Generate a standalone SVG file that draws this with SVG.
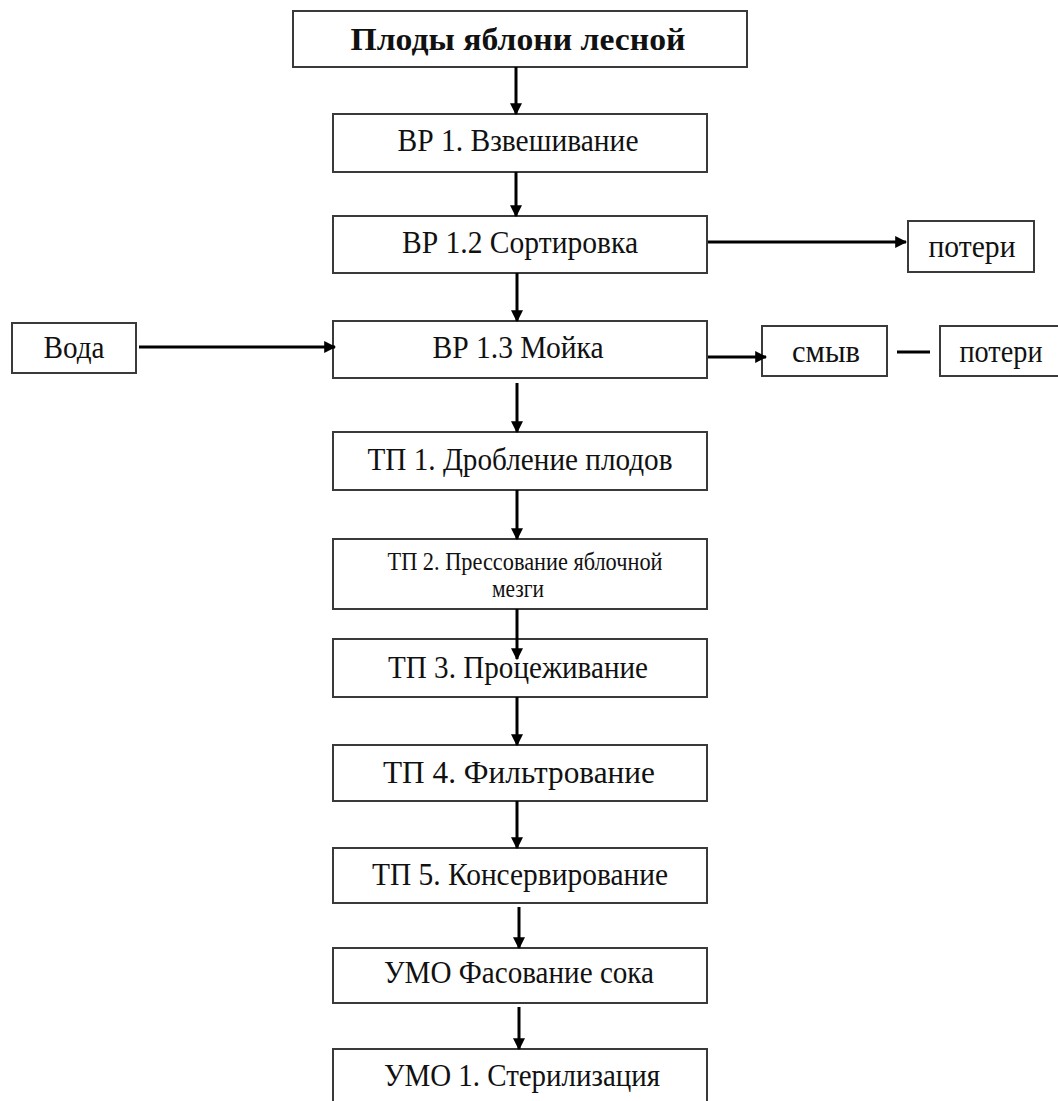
<svg xmlns="http://www.w3.org/2000/svg" width="1058" height="1101" viewBox="0 0 1058 1101">
  <defs>
    <style>
      .box { fill: #ffffff; stroke: #3a3a3a; stroke-width: 2; }
      .lbl { font-family: "Liberation Serif", "Times New Roman", serif; font-size: 32px; fill: #111111; text-anchor: middle; }
      .title { font-weight: bold; font-size: 31px; }
      .small { font-size: 25px; }
      .flow { stroke: #000000; stroke-width: 3; fill: none; }
    </style>
    <marker id="arrow" viewBox="0 0 10 10" refX="9" refY="5" markerWidth="4" markerHeight="4" orient="auto" markerUnits="strokeWidth">
      <path d="M0,0 L10,5 L0,10 Z" fill="#000000"/>
    </marker>
  </defs>

  <rect width="1058" height="1101" fill="#ffffff"/>

  <!-- process steps -->
  <g id="node-source">
    <rect class="box" x="293" y="11" width="454" height="56"/>
    <text class="lbl title" x="518" y="50" textLength="335" lengthAdjust="spacingAndGlyphs">Плоды яблони лесной</text>
  </g>
  <g id="node-vr1">
    <rect class="box" x="333" y="114" width="374" height="58"/>
    <text class="lbl" x="518" y="151" textLength="241" lengthAdjust="spacingAndGlyphs">ВР 1. Взвешивание</text>
  </g>
  <g id="node-vr12">
    <rect class="box" x="333" y="216" width="374" height="57"/>
    <text class="lbl" x="520" y="253" textLength="236" lengthAdjust="spacingAndGlyphs">ВР 1.2 Сортировка</text>
  </g>
  <g id="node-loss1">
    <rect class="box" x="908" y="221" width="126" height="51"/>
    <text class="lbl" x="972" y="257" textLength="87" lengthAdjust="spacingAndGlyphs">потери</text>
  </g>
  <g id="node-water">
    <rect class="box" x="12" y="323" width="124" height="50"/>
    <text class="lbl" x="74" y="358" textLength="61" lengthAdjust="spacingAndGlyphs">Вода</text>
  </g>
  <g id="node-vr13">
    <rect class="box" x="333" y="321" width="374" height="57"/>
    <text class="lbl" x="518" y="358" textLength="171" lengthAdjust="spacingAndGlyphs">ВР 1.3 Мойка</text>
  </g>
  <g id="node-wash">
    <rect class="box" x="762" y="326" width="125" height="50"/>
    <text class="lbl" x="826" y="362" textLength="68" lengthAdjust="spacingAndGlyphs">смыв</text>
  </g>
  <g id="node-loss2">
    <rect class="box" x="940" y="326" width="126" height="50"/>
    <text class="lbl" x="1001" y="362" textLength="83" lengthAdjust="spacingAndGlyphs">потери</text>
  </g>
  <g id="node-tp1">
    <rect class="box" x="333" y="432" width="374" height="58"/>
    <text class="lbl" x="520" y="470" textLength="305" lengthAdjust="spacingAndGlyphs">ТП 1. Дробление плодов</text>
  </g>
  <g id="node-tp2">
    <rect class="box" x="333" y="539" width="374" height="70"/>
    <text class="lbl small" x="525" y="570" textLength="275" lengthAdjust="spacingAndGlyphs">ТП 2. Прессование яблочной</text>
    <text class="lbl small" x="518" y="597" textLength="52" lengthAdjust="spacingAndGlyphs">мезги</text>
  </g>
  <g id="node-tp3">
    <rect class="box" x="333" y="639" width="374" height="58"/>
    <text class="lbl" x="518" y="678" textLength="260" lengthAdjust="spacingAndGlyphs">ТП 3. Процеживание</text>
  </g>
  <g id="node-tp4">
    <rect class="box" x="333" y="745" width="374" height="56"/>
    <text class="lbl" x="519" y="783" textLength="272" lengthAdjust="spacingAndGlyphs">ТП 4. Фильтрование</text>
  </g>
  <g id="node-tp5">
    <rect class="box" x="333" y="848" width="374" height="55"/>
    <text class="lbl" x="520" y="885" textLength="296" lengthAdjust="spacingAndGlyphs">ТП 5. Консервирование</text>
  </g>
  <g id="node-umo">
    <rect class="box" x="333" y="948" width="374" height="55"/>
    <text class="lbl" x="519" y="983" textLength="270" lengthAdjust="spacingAndGlyphs">УМО Фасование сока</text>
  </g>
  <g id="node-umo1">
    <rect class="box" x="333" y="1049" width="374" height="60"/>
    <text class="lbl" x="522" y="1086" textLength="276" lengthAdjust="spacingAndGlyphs">УМО 1. Стерилизация</text>
  </g>

  <!-- connectors (drawn last so heads that overlap a box stay visible) -->
  <g id="connectors">
    <line class="flow" x1="516" y1="67" x2="516" y2="114" marker-end="url(#arrow)"/>
    <line class="flow" x1="516" y1="172" x2="516" y2="216" marker-end="url(#arrow)"/>
    <line class="flow" x1="517" y1="273" x2="517" y2="321" marker-end="url(#arrow)"/>
    <line class="flow" x1="517" y1="383" x2="517" y2="432" marker-end="url(#arrow)"/>
    <line class="flow" x1="517" y1="490" x2="517" y2="539" marker-end="url(#arrow)"/>
    <line class="flow" x1="517" y1="609" x2="517" y2="659" marker-end="url(#arrow)"/>
    <line class="flow" x1="517" y1="697" x2="517" y2="745" marker-end="url(#arrow)"/>
    <line class="flow" x1="517" y1="801" x2="517" y2="848" marker-end="url(#arrow)"/>
    <line class="flow" x1="519" y1="907" x2="519" y2="948" marker-end="url(#arrow)"/>
    <line class="flow" x1="519" y1="1007" x2="519" y2="1049" marker-end="url(#arrow)"/>
    <line class="flow" x1="708" y1="242" x2="906" y2="242" marker-end="url(#arrow)"/>
    <line class="flow" x1="139" y1="347" x2="335" y2="347" marker-end="url(#arrow)"/>
    <line class="flow" x1="708" y1="357" x2="766" y2="357" marker-end="url(#arrow)"/>
    <line class="flow" x1="897" y1="352" x2="930" y2="352"/>
  </g>
</svg>
